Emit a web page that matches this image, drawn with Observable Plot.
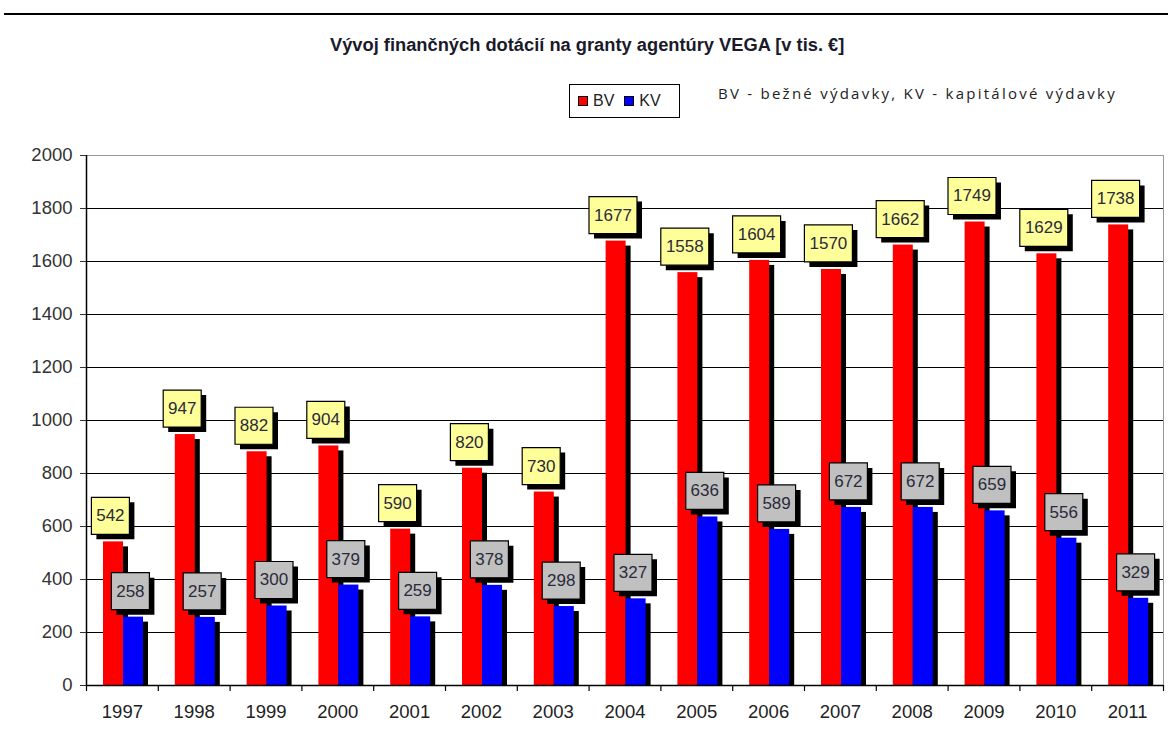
<!DOCTYPE html>
<html><head><meta charset="utf-8">
<script src="https://cdn.jsdelivr.net/npm/d3@7"></script>
<script src="https://cdn.jsdelivr.net/npm/@observablehq/plot@0.6"></script>
<style>
body{margin:0;background:#fff;width:1168px;height:738px;position:relative;overflow:hidden;font-family:"Liberation Sans",Arial,sans-serif}
#topline{position:absolute;left:4px;top:13px;width:1164px;height:2px;background:#000}
#title{position:absolute;top:34px;left:330px;white-space:nowrap;font-family:"Liberation Sans",Arial,sans-serif;font-weight:bold;font-size:18.3px;color:#1a1a2a}
#legend{position:absolute;left:569px;top:84px;width:111px;height:34px;border:1px solid #000;box-sizing:border-box;display:flex;align-items:center;padding-left:8px;font-size:16px;font-family:"Liberation Sans",Arial,sans-serif;color:#222}
#legend .sw{display:inline-block;width:8px;height:8px;border:1px solid #000;margin-right:5px}
#legend .lab{margin-right:10px}
#desc{position:absolute;left:718px;top:83px;white-space:nowrap;font-family:"Open Sans",sans-serif;font-size:15px;letter-spacing:2.25px;color:#222}
#chart{position:absolute;left:0;top:0}
</style></head>
<body>
<div id="topline"></div>
<div id="title">Vývoj finančných dotácií na granty agentúry VEGA [v tis. €]</div>
<div id="legend"></div>
<div id="desc">BV - bežné výdavky, KV - kapitálové výdavky</div>
<div id="chart"></div>
<script>
const years = ["1997","1998","1999","2000","2001","2002","2003","2004","2005","2006","2007","2008","2009","2010","2011"];
const bv = [542,947,882,904,590,820,730,1677,1558,1604,1570,1662,1749,1629,1738];
const kv = [258,257,300,379,259,378,298,327,636,589,672,672,659,556,329];
const seriesNames = ["BV","KV"];
const seriesColors = ["#ff0000","#0000ff"];
const labelFills = ["#ffff99","#c0c0c0"];
const yTicks = [0,200,400,600,800,1000,1200,1400,1600,1800,2000];

const data = years.map((y,i)=>({year:y, bv:bv[i], kv:kv[i]}));

// legend
const leg = document.getElementById("legend");
seriesNames.forEach((n,i)=>{
  const s=document.createElement("span");s.className="sw";s.style.background=seriesColors[i];leg.appendChild(s);
  const t=document.createElement("span");t.className="lab";t.textContent=n;leg.appendChild(t);
});

const W=1168,H=738,mL=86,mR=5,mT=155,mB=53;
const bw=(W-mL-mR)/years.length;
const half=bw/2;
const box=(w,h)=>({draw(ctx){ctx.rect(-w/2,-h/2,w,h);}});
const box3=box(38,37), box4=box(48,37);
const sh=5;

function labelMarks(key, fill, off){
  const marks=[];
  for (const [sym,test] of [[box3,d=>d[key]<1000],[box4,d=>d[key]>=1000]]){
    const sub=data.filter(test);
    marks.push(Plot.dot(sub,{x:"year",y:key,symbol:sym,fill:"#000",stroke:"none",dx:off+sh,dy:-26+sh}));
    marks.push(Plot.dot(sub,{x:"year",y:key,symbol:sym,fill:fill,stroke:"#000",strokeWidth:1.2,dx:off,dy:-26}));
  }
  marks.push(Plot.text(data,{x:"year",y:key,text:d=>String(d[key]),dx:off,dy:-26,fontSize:17,fill:"#2a2a3a",fontFamily:"Liberation Sans, Arial, sans-serif"}));
  return marks;
}

const chart = Plot.plot({
  width:W,height:H,marginLeft:mL,marginRight:mR,marginTop:mT,marginBottom:mB,
  style:{fontFamily:"Liberation Sans, Arial, sans-serif",background:"transparent",overflow:"visible"},
  x:{type:"band",domain:years,padding:0,round:false},
  y:{domain:[0,2000]},
  marks:[
    Plot.frame({stroke:"#999"}),
    Plot.ruleY(yTicks.filter(v=>v>0&&v<2000),{stroke:"#000",strokeWidth:1.2}),
    // BV
    Plot.barY(data,{x:"year",y:"bv",fill:"#000",insetLeft:17,insetRight:bw-37,dx:sh,insetTop:sh}),
    Plot.barY(data,{x:"year",y:"bv",fill:seriesColors[0],insetLeft:17,insetRight:bw-37}),
    // KV
    Plot.barY(data,{x:"year",y:"kv",fill:"#000",insetLeft:37,insetRight:bw-57,dx:sh,insetTop:sh}),
    Plot.barY(data,{x:"year",y:"kv",fill:seriesColors[1],insetLeft:37,insetRight:bw-57}),
    Plot.ruleY([0],{stroke:"#000",strokeWidth:1.5}),
    Plot.ruleX([years[0]],{dx:-half,stroke:"#000",strokeWidth:1.5}),
    Plot.ruleX(years,{x:d=>d,y1:0,y2:0,dx:-half,insetBottom:-6,stroke:"#000",strokeWidth:1.2}),
    Plot.ruleX([years[years.length-1]],{x:d=>d,y1:0,y2:0,dx:half,insetBottom:-6,stroke:"#000",strokeWidth:1.2}),
    ...labelMarks("bv",labelFills[0],-12),
    ...labelMarks("kv",labelFills[1],8),
    Plot.axisY({ticks:yTicks,tickFormat:d=>String(d),tickSize:6,tickPadding:8,fontSize:18.5,label:null,color:"#333"}),
    Plot.axisX({tickSize:0,tickPadding:19,fontSize:18.5,label:null,color:"#222"})
  ]
});
document.getElementById("chart").appendChild(chart);
</script>
</body></html>
